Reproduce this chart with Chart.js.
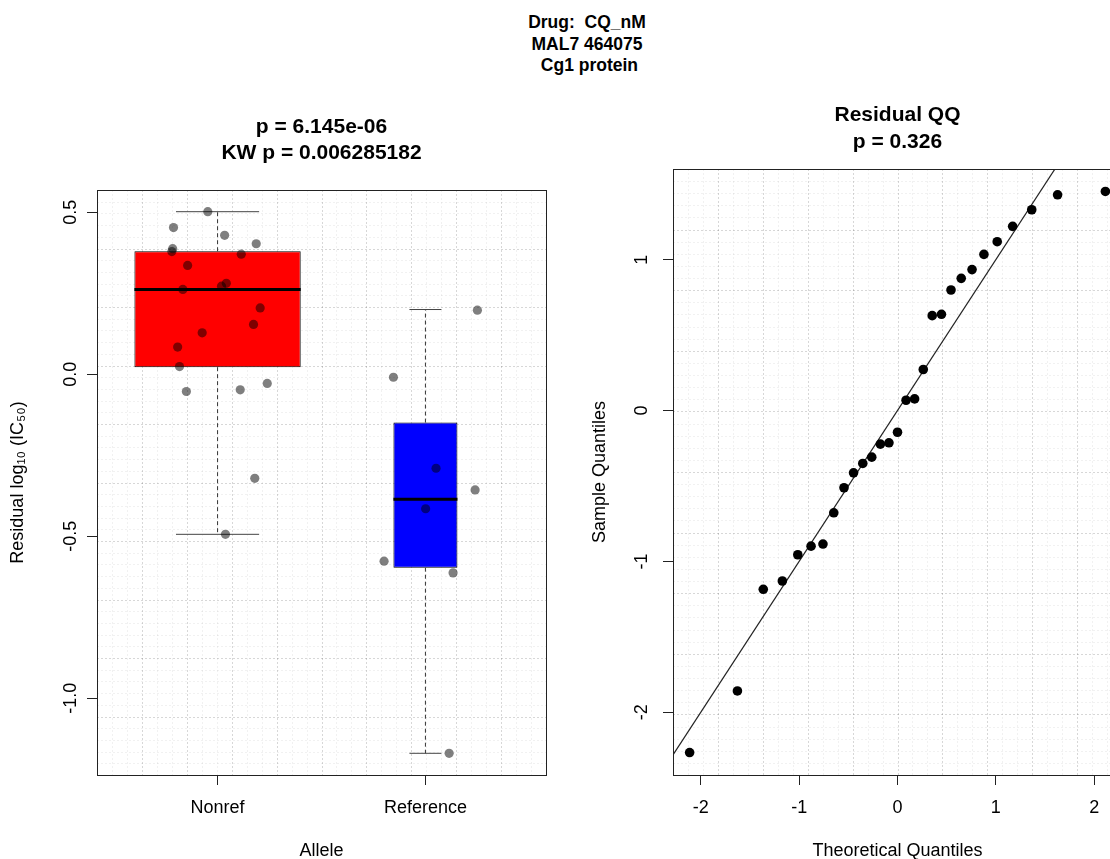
<!DOCTYPE html>
<html>
<head>
<meta charset="utf-8">
<script src="https://cdn.jsdelivr.net/npm/chart.js@4/dist/chart.umd.min.js"></script>
<style>
  html, body { margin: 0; padding: 0; background: #fff; }
  #page { position: relative; width: 1110px; height: 859px; overflow: hidden; background: #fff; }
  #suptitle {
    position: absolute; left: 487px; top: 12px; width: 200px;
    text-align: center; white-space: pre; color: #000;
    font: bold 17.5px/21.5px "Liberation Sans", Arial, sans-serif;
  }
  canvas { position: absolute; top: 0; }
</style>
</head>
<body>
<div id="page">
  <div id="suptitle">Drug:  CQ_nM
MAL7 464075
 Cg1 protein</div>
  <canvas id="boxChart" width="643" height="859" style="left:0"></canvas>
  <canvas id="qqChart" width="700" height="859" style="left:560px"></canvas>
</div>

<script>
// ---- data ----
const categories = ['Nonref', 'Reference'];
const boxQ1 = [0.022, -0.597];
const boxMedian = [0.262, -0.386];
const boxQ3 = [0.380, -0.149];
const whiskerLow = [-0.494, -1.170];
const whiskerHigh = [0.502, 0.200];

// jittered points
const nonrefX = [0.953, 0.788, 1.034, 1.186, 0.784, 0.780, 1.114, 0.856, 0.833, 1.042, 1.019,
                 1.205, 1.173, 0.926, 0.808, 0.817, 0.850, 1.109, 1.239, 1.179, 1.038];
const nonrefY = [0.502, 0.453, 0.429, 0.403, 0.388, 0.379, 0.371, 0.336, 0.262, 0.281, 0.272,
                 0.205, 0.154, 0.128, 0.084, 0.024, -0.053, -0.048, -0.028, -0.321, -0.494];
const refX = [2.250, 1.846, 2.051, 2.001, 2.239, 1.801, 2.133, 2.114];
const refY = [0.198, -0.009, -0.290, -0.415, -0.357, -0.577, -0.613, -1.170];

const boxYTicks = [-1.0, -0.5, 0.0, 0.5];

// QQ plot
const theoQ = [-2.114, -1.628, -1.365, -1.171, -1.014, -0.879, -0.758, -0.648, -0.544, -0.447,
               -0.353, -0.262, -0.174, -0.087, 0.000, 0.087, 0.174, 0.262, 0.353, 0.447,
               0.544, 0.648, 0.758, 0.879, 1.014, 1.171, 1.365, 1.628, 2.114];
const sampleQ = [-2.267, -1.859, -1.185, -1.130, -0.956, -0.899, -0.885, -0.678, -0.512, -0.413,
                 -0.351, -0.309, -0.223, -0.214, -0.144, 0.068, 0.077, 0.272, 0.629, 0.638,
                 0.799, 0.876, 0.934, 1.035, 1.119, 1.221, 1.331, 1.430, 1.452];
const qqSlope = 1.0;
const qqIntercept = 0.0;
const qqXTicks = [-2, -1, 0, 1, 2];
const qqYTicks = [-2, -1, 0, 1];

// ---- styling ----
const BOX_WIDTH = [0.8, 0.308];
const BOX_COLORS = ['#ff0000', '#0000ff'];
const FONT = '"Liberation Sans", Arial, Helvetica, sans-serif';

Chart.defaults.font.family = FONT;
Chart.defaults.color = '#000';
Chart.defaults.animation = false;

// R style grid(): equal divisions of the plot region, dotted
const rGrid = {
    id: 'rGrid',
    beforeDatasetsDraw(chart) {
        const { ctx, chartArea: a } = chart;
        ctx.save();
        ctx.beginPath();
        ctx.rect(a.left, a.top, a.width, a.height);
        ctx.clip();
        ctx.lineWidth = 1;
        ctx.setLineDash([2, 2]);
        const draw = (nx, ny, color) => {
            ctx.strokeStyle = color;
            ctx.beginPath();
            for (let i = 1; i < nx; i++) {
                const x = Math.round(a.left + a.width * i / nx) + 0.5;
                ctx.moveTo(x, a.top); ctx.lineTo(x, a.bottom);
            }
            for (let j = 1; j < ny; j++) {
                const y = Math.round(a.top + a.height * j / ny) + 0.5;
                ctx.moveTo(a.left, y); ctx.lineTo(a.right, y);
            }
            ctx.stroke();
        };
        draw(30, 50, 'rgba(0,0,0,0.055)');
        draw(10, 10, 'rgba(0,0,0,0.11)');
        ctx.restore();
    }
};

const rFrame = {
    id: 'rFrame',
    afterDraw(chart) {
        const { ctx, chartArea: a } = chart;
        ctx.save();
        ctx.strokeStyle = '#222';
        ctx.lineWidth = 1;
        ctx.strokeRect(Math.round(a.left) + 0.5, Math.round(a.top) + 0.5,
                       Math.round(a.width), Math.round(a.height));
        ctx.restore();
    }
};

const tickGrid = { display: true, offset: false, drawOnChartArea: false, drawTicks: true, tickLength: 10, color: '#222', lineWidth: 1 };
const tickFont = { size: 18 };
const axisTitleFont = { size: 18, lineHeight: 1 };

// ---- boxplot ----
function segments(fn) {
    const pts = [];
    categories.forEach((c, i) => {
        fn(i).forEach(p => pts.push(p));
        pts.push({ x: i + 1, y: null });
    });
    return pts;
}

const boxDatasets = categories.map((c, i) => ({
    type: 'bar',
    label: c,
    data: [{ x: i + 1, y: [boxQ1[i], boxQ3[i]] }],
    backgroundColor: BOX_COLORS[i],
    borderColor: '#000',
    borderWidth: 1,
    borderSkipped: false,
    grouped: false,
    categoryPercentage: 1,
    barPercentage: BOX_WIDTH[i],
    order: 5
}));

const medianSet = {
    type: 'line',
    data: segments(i => [
        { x: i + 1 - BOX_WIDTH[i] / 2, y: boxMedian[i] },
        { x: i + 1 + BOX_WIDTH[i] / 2, y: boxMedian[i] }
    ]),
    borderColor: '#000', borderWidth: 3, pointRadius: 0, spanGaps: false, order: 1
};

const whiskerSet = {
    type: 'line',
    data: segments(i => [
        { x: i + 1, y: boxQ3[i] }, { x: i + 1, y: whiskerHigh[i] }, { x: i + 1, y: null },
        { x: i + 1, y: boxQ1[i] }, { x: i + 1, y: whiskerLow[i] }
    ]),
    borderColor: '#333', borderWidth: 1, borderDash: [4, 3], pointRadius: 0, spanGaps: false, order: 3
};

const capSet = {
    type: 'line',
    data: segments(i => [
        { x: i + 1 - BOX_WIDTH[i] / 4, y: whiskerHigh[i] }, { x: i + 1 + BOX_WIDTH[i] / 4, y: whiskerHigh[i] },
        { x: i + 1, y: null },
        { x: i + 1 - BOX_WIDTH[i] / 4, y: whiskerLow[i] }, { x: i + 1 + BOX_WIDTH[i] / 4, y: whiskerLow[i] }
    ]),
    borderColor: '#444', borderWidth: 1, pointRadius: 0, spanGaps: false, order: 2
};

const jitterStyle = { type: 'scatter', backgroundColor: 'rgba(0,0,0,0.5)', borderWidth: 0, pointRadius: 4.6, order: 0 };

new Chart(document.getElementById('boxChart'), {
    type: 'scatter',
    data: {
        datasets: [
            Object.assign({ data: nonrefX.map((x, i) => ({ x, y: nonrefY[i] })) }, jitterStyle),
            Object.assign({ data: refX.map((x, i) => ({ x, y: refY[i] })) }, jitterStyle),
            medianSet, capSet, whiskerSet,
            ...boxDatasets
        ]
    },
    options: {
        responsive: false,
        layout: { padding: { left: 0, right: 97, top: 0, bottom: 0 } },
        scales: {
            x: {
                type: 'linear', min: 0.42, max: 2.58, offset: false,
                afterBuildTicks: s => { s.ticks = categories.map((c, i) => ({ value: i + 1 })); },
                afterFit: s => { s.height = 84; },
                ticks: { callback: v => categories[v - 1], padding: 12, font: tickFont, maxRotation: 0, autoSkip: false },
                grid: tickGrid,
                border: { display: false },
                title: { display: true, text: 'Allele', font: axisTitleFont, padding: { top: 0, bottom: -1 } }
            },
            y: {
                type: 'linear', min: -1.237, max: 0.569,
                afterBuildTicks: s => { s.ticks = boxYTicks.map(v => ({ value: v })); },
                afterFit: s => { s.width = 97; },
                ticks: { callback: v => v.toFixed(1), minRotation: 90, maxRotation: 90, crossAlign: 'center', padding: 0, font: tickFont },
                grid: tickGrid,
                border: { display: false },
                title: { display: true, text: 'Residual log\u2081\u2080 (IC\u2085\u2080)', font: axisTitleFont, padding: { top: 9, bottom: 0 } }
            }
        },
        plugins: {
            legend: { display: false },
            tooltip: { enabled: false },
            title: {
                display: true, fullSize: false, color: '#000',
                text: ['p = 6.145e-06', 'KW p = 0.006285182'],
                font: { size: 21, weight: 'bold', lineHeight: '26px' },
                padding: { top: 114, bottom: 24 }
            }
        }
    },
    plugins: [rGrid, rFrame]
});

// ---- QQ plot ----
new Chart(document.getElementById('qqChart'), {
    type: 'scatter',
    data: {
        datasets: [
            {
                type: 'scatter',
                data: theoQ.map((x, i) => ({ x, y: sampleQ[i] })),
                backgroundColor: '#000', borderWidth: 0, pointRadius: 4.8, order: 0
            },
            {
                type: 'line',
                data: [-3, 3].map(x => ({ x, y: qqIntercept + qqSlope * x })),
                borderColor: '#222', borderWidth: 1.2, pointRadius: 0, order: 1
            }
        ]
    },
    options: {
        responsive: false,
        layout: { padding: { left: 0, right: 138, top: 0, bottom: 0 } },
        scales: {
            x: {
                type: 'linear', min: -2.283, max: 2.283, offset: false,
                afterBuildTicks: s => { s.ticks = qqXTicks.map(v => ({ value: v })); },
                afterFit: s => { s.height = 84; },
                ticks: { callback: v => String(v), padding: 12, font: tickFont, maxRotation: 0, autoSkip: false },
                grid: tickGrid,
                border: { display: false },
                title: { display: true, text: 'Theoretical Quantiles', font: axisTitleFont, padding: { top: 0, bottom: -1 } }
            },
            y: {
                type: 'linear', min: -2.416, max: 1.601,
                afterBuildTicks: s => { s.ticks = qqYTicks.map(v => ({ value: v })); },
                afterFit: s => { s.width = 113; },
                ticks: { callback: v => String(v), minRotation: 90, maxRotation: 90, crossAlign: 'center', padding: 13, font: tickFont },
                grid: tickGrid,
                border: { display: false },
                title: { display: true, text: 'Sample Quantiles', font: axisTitleFont, padding: { top: 31, bottom: 0 } }
            }
        },
        plugins: {
            legend: { display: false },
            tooltip: { enabled: false },
            title: {
                display: true, fullSize: false, color: '#000',
                text: ['Residual QQ', 'p = 0.326'],
                font: { size: 21, weight: 'bold', lineHeight: '27px' },
                padding: { top: 101.5, bottom: 13.5 }
            }
        }
    },
    plugins: [rGrid, rFrame]
});
</script>
</body>
</html>
